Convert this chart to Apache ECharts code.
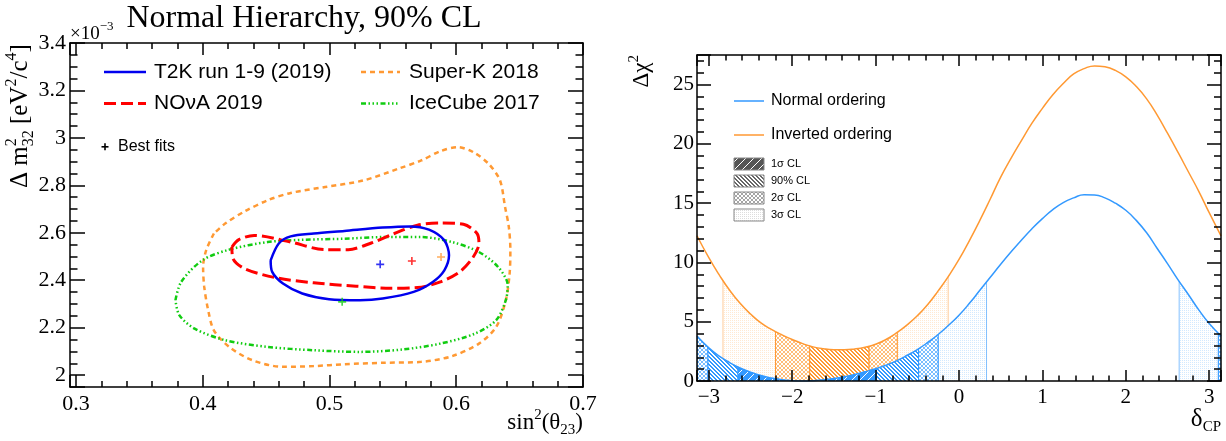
<!DOCTYPE html>
<html>
<head>
<meta charset="utf-8">
<script src="https://cdn.jsdelivr.net/npm/echarts@6.0.0/dist/echarts.min.js"></script>
<style>
  html, body { margin: 0; padding: 0; background: #fff; }
  #chart { width: 1226px; height: 441px; }
</style>
</head>
<body>
<div id="chart"></div>
<script>
// ---- left panel: 90% CL contours, [sin^2(theta23), dm2_32 (1e-3 eV^2)] ----
const t2kContour = [
  [0.4536, 2.484], [0.4600, 2.555], [0.4694, 2.585], [0.4876, 2.597], [0.5118, 2.608],
  [0.5420, 2.622], [0.5634, 2.627], [0.5785, 2.613], [0.5906, 2.568], [0.5943, 2.505],
  [0.5906, 2.442], [0.5815, 2.393], [0.5664, 2.351], [0.5420, 2.323], [0.5240, 2.316],
  [0.4997, 2.320], [0.4785, 2.344], [0.4633, 2.386], [0.4548, 2.435], [0.4536, 2.484]
];
const novaContour = [
  [0.4230, 2.540], [0.4285, 2.571], [0.4406, 2.589], [0.4694, 2.561], [0.4966, 2.529],
  [0.5148, 2.529], [0.5330, 2.557], [0.5512, 2.597], [0.5694, 2.632], [0.5875, 2.641],
  [0.6057, 2.636], [0.6164, 2.597], [0.6179, 2.555], [0.6134, 2.498], [0.6027, 2.435],
  [0.5875, 2.393], [0.5694, 2.369], [0.5482, 2.366], [0.5209, 2.375], [0.4876, 2.389],
  [0.4573, 2.411], [0.4330, 2.449], [0.4239, 2.491], [0.4230, 2.540]
];
const superKContour = [
  [0.4088, 2.597], [0.4027, 2.526], [0.4003, 2.456], [0.4012, 2.372], [0.4043, 2.274],
  [0.4088, 2.189], [0.4209, 2.119], [0.4391, 2.063], [0.4633, 2.035], [0.4876, 2.038],
  [0.5118, 2.046], [0.5420, 2.052], [0.5724, 2.056], [0.5967, 2.080], [0.6179, 2.133],
  [0.6315, 2.203], [0.6391, 2.316], [0.6421, 2.428], [0.6427, 2.526], [0.6415, 2.624],
  [0.6385, 2.709], [0.6345, 2.821], [0.6255, 2.891], [0.6134, 2.940], [0.6012, 2.961],
  [0.5875, 2.944], [0.5724, 2.905], [0.5543, 2.870], [0.5270, 2.821], [0.4966, 2.793],
  [0.4694, 2.768], [0.4512, 2.737], [0.4330, 2.690], [0.4180, 2.640], [0.4088, 2.597]
];
const iceCubeContour = [
  [0.3785, 2.316], [0.3830, 2.393], [0.3997, 2.484], [0.4209, 2.529], [0.4512, 2.561],
  [0.4815, 2.571], [0.5118, 2.575], [0.5420, 2.582], [0.5724, 2.582], [0.5967, 2.561],
  [0.6179, 2.519], [0.6330, 2.456], [0.6406, 2.379], [0.6391, 2.316], [0.6315, 2.232],
  [0.6148, 2.175], [0.5875, 2.133], [0.5573, 2.108], [0.5240, 2.098], [0.4876, 2.105],
  [0.4512, 2.119], [0.4179, 2.147], [0.3936, 2.196], [0.3815, 2.253], [0.3785, 2.316]
];
const t2kBest = [0.540, 2.467];
const novaBest = [0.565, 2.481];
const superKBest = [0.588, 2.498];
const iceCubeBest = [0.510, 2.309];

// ---- right panel: delta chi^2 vs delta_CP ----
const deltaCP = [-3.1416, -3.0, -2.875, -2.75, -2.625, -2.5, -2.375, -2.25, -2.125, -2.0,
  -1.875, -1.75, -1.625, -1.5, -1.375, -1.25, -1.125, -1.0, -0.875, -0.75,
  -0.625, -0.5, -0.375, -0.25, -0.125, 0, 0.125, 0.25, 0.375, 0.5,
  0.625, 0.75, 0.875, 1.0, 1.125, 1.25, 1.375, 1.5, 1.625, 1.75,
  1.875, 2.0, 2.125, 2.25, 2.375, 2.5, 2.625, 2.75, 2.875, 3.0, 3.1416];
const normalChi2 = [3.8, 2.8, 2.1, 1.55, 1.1, 0.75, 0.46, 0.25, 0.11, 0.03,
  0.0, 0.03, 0.1, 0.21, 0.36, 0.55, 0.78, 1.03, 1.33, 1.7,
  2.15, 2.65, 3.25, 3.92, 4.7, 5.55, 6.55, 7.65, 8.75, 9.85,
  10.9, 11.9, 12.85, 13.7, 14.45, 15.05, 15.45, 15.72, 15.7, 15.45,
  15.0, 14.4, 13.55, 12.5, 11.2, 9.9, 8.55, 7.3, 6.0, 4.85, 3.8];
const invertedChi2 = [12.25, 10.4, 8.95, 7.65, 6.55, 5.65, 4.9, 4.35, 3.9, 3.5,
  3.15, 2.88, 2.72, 2.64, 2.63, 2.7, 2.85, 3.1, 3.5, 4.05,
  4.72, 5.5, 6.45, 7.6, 8.85, 10.25, 11.85, 13.55, 15.35, 17.2,
  18.8, 20.3, 21.75, 23.0, 24.15, 25.1, 25.9, 26.35, 26.58, 26.5,
  26.2, 25.65, 24.85, 23.8, 22.45, 20.9, 19.3, 17.65, 16.0, 14.2, 12.25];

// confidence intervals in delta_CP
const noOneSigma = [[-2.65, -0.99]];
const noNinety = [[-3.01, -2.65], [-0.99, -0.485]];
const noTwoSigma = [[-3.1416, -3.01], [-0.485, -0.25], [3.11, 3.1416]];
const noThreeSigma = [[-0.25, 0.33], [2.64, 3.11]];
const ioNinety = [[-1.79, -1.08]];
const ioTwoSigma = [[-2.2, -1.79], [-1.08, -0.74]];
const ioThreeSigma = [[-2.83, -2.2], [-0.74, -0.13]];

const SERIF = '"Liberation Serif", "Times New Roman", serif';
const SANS = '"Liberation Sans", Arial, sans-serif';
const BLUE = '#3399ff';
const ORANGE = '#ff9933';

// pixel hatch tiles, ROOT-like fill styles
function makeTile(kind, color) {
  const c = document.createElement('canvas');
  const g = c.getContext('2d');
  const n = { one: 8, ninety: 4, two: 4, three: 2 }[kind];
  c.width = c.height = n;
  g.fillStyle = '#fff';
  g.fillRect(0, 0, n, n);
  g.fillStyle = color;
  if (kind === 'one') {
    g.fillRect(0, 0, n, n);
    g.fillStyle = '#fff';
    for (let i = 0; i < n; i++) g.fillRect(i, n - 1 - i, 1, 1);
  } else if (kind === 'ninety') {
    for (let i = 0; i < n; i++) { g.fillRect(i, i, 1, 1); g.fillRect((i + 1) % n, i, 1, 1); }
  } else if (kind === 'two') {
    g.globalAlpha = 0.65;
    for (let i = 0; i < n; i++) { g.fillRect(i, i, 1, 1); if (n - 1 - i !== i) g.fillRect(n - 1 - i, i, 1, 1); }
  } else {
    g.globalAlpha = 0.22;
    g.fillRect(0, 0, 1, 1);
  }
  return { image: c, repeat: 'repeat' };
}

function valueAt(xs, ys, x) {
  for (let i = 1; i < xs.length; i++) {
    if (x <= xs[i]) {
      const t = (x - xs[i - 1]) / (xs[i] - xs[i - 1]);
      return ys[i - 1] + t * (ys[i] - ys[i - 1]);
    }
  }
  return ys[ys.length - 1];
}

function regionSeries(intervals, ys, fill, edge, z) {
  return {
    type: 'custom', xAxisIndex: 2, yAxisIndex: 2, z: z, silent: true, clip: true,
    data: intervals,
    renderItem: function (params, api) {
      const a = api.value(0), b = api.value(1);
      const pts = [api.coord([a, 0]), api.coord([a, valueAt(deltaCP, ys, a)])];
      deltaCP.forEach((d, i) => { if (d > a && d < b) pts.push(api.coord([d, ys[i]])); });
      pts.push(api.coord([b, valueAt(deltaCP, ys, b)]), api.coord([b, 0]));
      const n = pts.length;
      return {
        type: 'group',
        children: [
          { type: 'polygon', shape: { points: pts }, style: { fill: fill } },
          { type: 'line', shape: { x1: pts[0][0], y1: pts[0][1], x2: pts[1][0], y2: pts[1][1] }, style: { stroke: edge, lineWidth: 1 } },
          { type: 'line', shape: { x1: pts[n - 1][0], y1: pts[n - 1][1], x2: pts[n - 2][0], y2: pts[n - 2][1] }, style: { stroke: edge, lineWidth: 1 } }
        ]
      };
    }
  };
}

// text built from runs so sub/superscripts sit where they should
const measureCtx = document.createElement('canvas').getContext('2d');
function runs(x, y, parts, align, rotation) {
  let cx = 0, pend = 0;
  const items = [];
  parts.forEach(p => {
    const fam = p.f || SERIF;
    measureCtx.font = p.s + 'px ' + fam;
    const w = measureCtx.measureText(p.t).width;
    items.push({ p: p, fam: fam, cx: cx });
    if (p.keep) pend = w; else { cx += Math.max(w, pend); pend = 0; }
  });
  const off = align === 'right' ? -cx : align === 'center' ? -cx / 2 : 0;
  return {
    type: 'group', x: x, y: y, rotation: rotation || 0, silent: true,
    children: items.map(it => ({
      type: 'text', x: off + it.cx, y: (it.p.dy || 0) - 0.32 * it.p.s,
      style: { text: it.p.t, fontSize: it.p.s, fontFamily: it.fam, fill: '#000', align: 'left', verticalAlign: 'middle' }
    }))
  };
}

const tickStyle = { color: '#000', width: 1.5 };
function frameAxis(opts, tickLen, minorSplit) {
  return Object.assign({
    type: 'value', z: 10,
    axisLine: { show: true, onZero: false, lineStyle: { color: '#000', width: 1.5 } },
    axisTick: { show: true, inside: true, length: tickLen, lineStyle: tickStyle },
    minorTick: { show: true, splitNumber: minorSplit, length: tickLen / 2, lineStyle: tickStyle },
    splitLine: { show: false },
    axisLabel: { show: false }
  }, opts);
}
const nearMultiple = (v, step) => Math.abs(v / step - Math.round(v / step)) < 1e-6;
const labelLeftX = v => nearMultiple(v, 0.1) ? v.toFixed(1) : '';
const labelLeftY = v => nearMultiple(v, 0.2) ? String(+v.toFixed(1)) : '';
const labelDelta = v => nearMultiple(v, 1) ? (v < 0 ? '\u2212' + Math.round(-v) : String(Math.round(v))) : '';
const labelChi = v => nearMultiple(v, 5) ? String(Math.round(v)) : '';

const plusSymbol = 'path://M4,0H6V4H10V6H6V10H4V6H0V4H4Z';

const chart = echarts.init(document.getElementById('chart'));
const option = {
  animation: false,
  backgroundColor: '#fff',
  grid: [
    { left: 70, right: 643, top: 43, bottom: 54 },
    { left: 697, right: 5, top: 55, bottom: 60 }
  ],
  xAxis: [
    frameAxis({ gridIndex: 0, position: 'bottom', min: 0.2953, max: 0.7, splitNumber: 5,
      axisLabel: { show: true, formatter: labelLeftX, fontFamily: SERIF, fontSize: 22, color: '#000', margin: 6 } }, 12, 5),
    frameAxis({ gridIndex: 0, position: 'top', min: 0.2953, max: 0.7, splitNumber: 5 }, 12, 5),
    frameAxis({ gridIndex: 1, position: 'bottom', min: -Math.PI, max: Math.PI, splitNumber: 5,
      axisLabel: { show: true, formatter: labelDelta, fontFamily: SERIF, fontSize: 21, color: '#000', margin: 6 } }, 11, 5),
    frameAxis({ gridIndex: 1, position: 'top', min: -Math.PI, max: Math.PI, splitNumber: 5 }, 11, 5)
  ],
  yAxis: [
    frameAxis({ gridIndex: 0, position: 'left', min: 1.95, max: 3.4, splitNumber: 7,
      axisLabel: { show: true, formatter: labelLeftY, fontFamily: SERIF, fontSize: 22, color: '#000', margin: 4 } }, 15, 4),
    frameAxis({ gridIndex: 0, position: 'right', min: 1.95, max: 3.4, splitNumber: 7 }, 15, 4),
    frameAxis({ gridIndex: 1, position: 'left', min: 0, max: 27.5, splitNumber: 5,
      axisLabel: { show: true, formatter: labelChi, fontFamily: SERIF, fontSize: 21, color: '#000', margin: 3 } }, 14, 5),
    frameAxis({ gridIndex: 1, position: 'right', min: 0, max: 27.5, splitNumber: 5 }, 14, 5)
  ],
  series: [
    { type: 'line', name: 'Super-K 2018', xAxisIndex: 0, yAxisIndex: 0, data: superKContour, smooth: 0.3, showSymbol: false, z: 3,
      lineStyle: { color: ORANGE, width: 2.5, type: [5, 4] } },
    { type: 'line', name: 'IceCube 2017', xAxisIndex: 0, yAxisIndex: 0, data: iceCubeContour, smooth: 0.3, showSymbol: false, z: 3,
      lineStyle: { color: '#11cc11', width: 2.5, type: [5, 2.5, 1.5, 2.5, 1.5, 2.5, 1.5, 2.5] } },
    { type: 'line', name: 'NOvA 2019', xAxisIndex: 0, yAxisIndex: 0, data: novaContour, smooth: 0.3, showSymbol: false, z: 4,
      lineStyle: { color: '#ff0000', width: 3, type: [12, 5] } },
    { type: 'line', name: 'T2K run 1-9 (2019)', xAxisIndex: 0, yAxisIndex: 0, data: t2kContour, smooth: 0.3, showSymbol: false, z: 5,
      lineStyle: { color: '#0000ee', width: 2.5 } },
    { type: 'scatter', xAxisIndex: 0, yAxisIndex: 0, symbol: plusSymbol, symbolSize: 8, z: 6,
      data: [
        { value: t2kBest, itemStyle: { color: '#0000ee' } },
        { value: novaBest, itemStyle: { color: '#ff0000' } },
        { value: superKBest, itemStyle: { color: ORANGE } },
        { value: iceCubeBest, itemStyle: { color: '#11cc11' } }
      ] },

    regionSeries(ioThreeSigma, invertedChi2, makeTile('three', ORANGE), 'rgba(255,153,51,0.5)', 1),
    regionSeries(ioTwoSigma, invertedChi2, makeTile('two', ORANGE), ORANGE, 1),
    regionSeries(ioNinety, invertedChi2, makeTile('ninety', ORANGE), ORANGE, 1),
    regionSeries(noThreeSigma, normalChi2, makeTile('three', BLUE), 'rgba(51,153,255,0.6)', 2),
    regionSeries(noTwoSigma, normalChi2, makeTile('two', BLUE), BLUE, 2),
    regionSeries(noNinety, normalChi2, makeTile('ninety', BLUE), BLUE, 2),
    regionSeries(noOneSigma, normalChi2, makeTile('one', BLUE), BLUE, 2),
    { type: 'line', name: 'Inverted ordering', xAxisIndex: 2, yAxisIndex: 2, smooth: true, showSymbol: false, z: 5,
      data: deltaCP.map((d, i) => [d, invertedChi2[i]]), lineStyle: { color: ORANGE, width: 1.5 } },
    { type: 'line', name: 'Normal ordering', xAxisIndex: 2, yAxisIndex: 2, smooth: true, showSymbol: false, z: 5,
      data: deltaCP.map((d, i) => [d, normalChi2[i]]), lineStyle: { color: BLUE, width: 1.5 } }
  ],
  graphic: [
    runs(304, 29, [{ t: 'Normal Hierarchy, 90% CL', s: 32 }], 'center'),
    runs(70, 40, [{ t: '\u00d710', s: 19 }, { t: '\u22123', s: 13, dy: -9 }], 'left'),
    runs(28, 188, [{ t: '\u0394 m', s: 25 }, { t: '2', s: 16, dy: -11, keep: true }, { t: '32', s: 16, dy: 6 },
      { t: ' [eV', s: 25 }, { t: '2', s: 16, dy: -11 }, { t: '/c', s: 25 }, { t: '4', s: 16, dy: -11 }, { t: ']', s: 25 }], 'left', Math.PI / 2),
    runs(583, 430, [{ t: 'sin', s: 23 }, { t: '2', s: 15, dy: -10 }, { t: '(\u03b8', s: 23 }, { t: '23', s: 15, dy: 5 }, { t: ')', s: 23 }], 'right'),
    runs(649, 55, [{ t: '\u0394\u03c7', s: 23 }, { t: '2', s: 15, dy: -10 }], 'right', Math.PI / 2),
    runs(1221, 427, [{ t: '\u03b4', s: 25 }, { t: 'CP', s: 15, dy: 5 }], 'right'),

    // left legend
    { type: 'line', shape: { x1: 104, y1: 72, x2: 146, y2: 72 }, style: { stroke: '#0000ee', lineWidth: 2.5 } },
    { type: 'line', shape: { x1: 104, y1: 103.5, x2: 146, y2: 103.5 }, style: { stroke: '#ff0000', lineWidth: 3, lineDash: [12, 5] } },
    { type: 'line', shape: { x1: 361, y1: 72, x2: 400, y2: 72 }, style: { stroke: ORANGE, lineWidth: 2.5, lineDash: [5, 4] } },
    { type: 'line', shape: { x1: 361, y1: 103.5, x2: 400, y2: 103.5 }, style: { stroke: '#11cc11', lineWidth: 2.5, lineDash: [5, 2.5, 1.5, 2.5, 1.5, 2.5, 1.5, 2.5] } },
    { type: 'text', x: 154, y: 72, style: { text: 'T2K run 1-9 (2019)', fontSize: 21, fontFamily: SANS, fill: '#000', verticalAlign: 'middle' } },
    { type: 'text', x: 154, y: 103.5, style: { text: 'NO\u03bdA 2019', fontSize: 21, fontFamily: SANS, fill: '#000', verticalAlign: 'middle' } },
    { type: 'text', x: 409, y: 72, style: { text: 'Super-K 2018', fontSize: 21, fontFamily: SANS, fill: '#000', verticalAlign: 'middle' } },
    { type: 'text', x: 409, y: 103.5, style: { text: 'IceCube 2017', fontSize: 21, fontFamily: SANS, fill: '#000', verticalAlign: 'middle' } },
    { type: 'rect', shape: { x: 101.5, y: 146, width: 7, height: 1.6 }, style: { fill: '#000' } },
    { type: 'rect', shape: { x: 104.2, y: 143.3, width: 1.6, height: 7 }, style: { fill: '#000' } },
    { type: 'text', x: 118, y: 147, style: { text: 'Best fits', fontSize: 16, fontFamily: SANS, fill: '#000', verticalAlign: 'middle' } },

    // right legend
    { type: 'line', shape: { x1: 734, y1: 101, x2: 764, y2: 101 }, style: { stroke: BLUE, lineWidth: 1.5 } },
    { type: 'line', shape: { x1: 734, y1: 135, x2: 764, y2: 135 }, style: { stroke: ORANGE, lineWidth: 1.5 } },
    { type: 'text', x: 771, y: 101, style: { text: 'Normal ordering', fontSize: 16, fontFamily: SANS, fill: '#000', verticalAlign: 'middle' } },
    { type: 'text', x: 771, y: 135, style: { text: 'Inverted ordering', fontSize: 16, fontFamily: SANS, fill: '#000', verticalAlign: 'middle' } },
    { type: 'rect', shape: { x: 734, y: 158, width: 30, height: 12 }, style: { fill: makeTile('one', '#555'), stroke: '#888', lineWidth: 1 } },
    { type: 'rect', shape: { x: 734, y: 175, width: 30, height: 12 }, style: { fill: makeTile('ninety', '#666'), stroke: '#888', lineWidth: 1 } },
    { type: 'rect', shape: { x: 734, y: 192, width: 30, height: 12 }, style: { fill: makeTile('two', '#777'), stroke: '#888', lineWidth: 1 } },
    { type: 'rect', shape: { x: 734, y: 209, width: 30, height: 12 }, style: { fill: makeTile('three', '#666'), stroke: '#888', lineWidth: 1 } },
    { type: 'text', x: 771, y: 164, style: { text: '1\u03c3 CL', fontSize: 11, fontFamily: SANS, fill: '#000', verticalAlign: 'middle' } },
    { type: 'text', x: 771, y: 181, style: { text: '90% CL', fontSize: 11, fontFamily: SANS, fill: '#000', verticalAlign: 'middle' } },
    { type: 'text', x: 771, y: 198, style: { text: '2\u03c3 CL', fontSize: 11, fontFamily: SANS, fill: '#000', verticalAlign: 'middle' } },
    { type: 'text', x: 771, y: 215, style: { text: '3\u03c3 CL', fontSize: 11, fontFamily: SANS, fill: '#000', verticalAlign: 'middle' } }
  ]
};
option && chart.setOption(option);
</script>
</body>
</html>
